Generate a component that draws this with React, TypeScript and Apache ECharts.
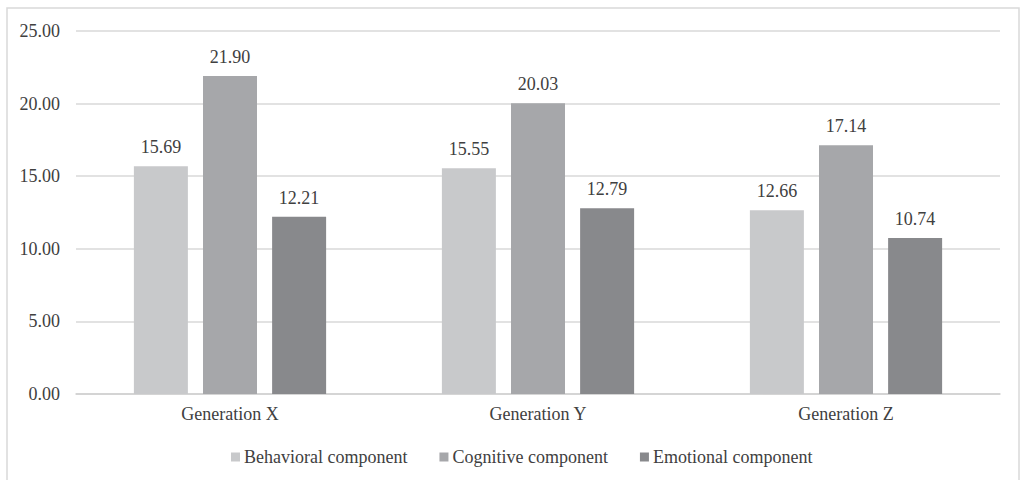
import React, { useEffect, useRef } from "react";
import * as echarts from "echarts";

const categories = ["Generation X", "Generation Y", "Generation Z"];
const seriesNames = ["Behavioral component", "Cognitive component", "Emotional component"];
const behavioral = [15.69, 15.55, 12.66];
const cognitive = [21.9, 20.03, 17.14];
const emotional = [12.21, 12.79, 10.74];
const colors = ["#c8c9cb", "#a6a7aa", "#88898c"];

const FONT = "Times New Roman";
const FS = 18;

export default function App() {
  const ref = useRef<HTMLDivElement>(null);
  useEffect(() => {
    if (!ref.current) return;
    const chart = echarts.init(ref.current, null, { renderer: "svg" });
    const values = [behavioral, cognitive, emotional];
    chart.setOption({
      animation: false,
      backgroundColor: "#ffffff",
      graphic: [
        {
          type: "rect",
          shape: { x: 7, y: 8, width: 1012, height: 490 },
          style: { fill: "none", stroke: "#d9d9d9", lineWidth: 1.5 },
          silent: true,
        },
      ],
      grid: { left: 76, right: 21, top: 31, bottom: 86, containLabel: false },
      legend: {
        data: seriesNames,
        bottom: 9,
        left: 226,
        icon: "rect",
        itemWidth: 9,
        itemHeight: 9,
        itemGap: 32,
        textStyle: { fontFamily: FONT, fontSize: FS, color: "#404040", padding: [0, 0, 0, -1] },
      },
      xAxis: {
        type: "category",
        data: categories,
        axisLine: { show: true, lineStyle: { color: "#d0d0d0", width: 1.5 } },
        axisTick: { show: false },
        axisLabel: { fontFamily: FONT, fontSize: FS, color: "#404040", margin: 11 },
      },
      yAxis: {
        type: "value",
        min: 0,
        max: 25,
        interval: 5,
        axisLine: { show: false },
        axisTick: { show: false },
        splitLine: { lineStyle: { color: "#d9d9d9", width: 1.5 } },
        axisLabel: {
          fontFamily: FONT,
          fontSize: FS,
          color: "#404040",
          margin: 16,
          formatter: (v: number) => v.toFixed(2),
        },
      },
      series: seriesNames.map((name, i) => ({
        name,
        type: "bar",
        data: values[i],
        barWidth: 54,
        barGap: "28%",
        itemStyle: { color: colors[i] },
        label: {
          show: true,
          position: "top",
          distance: 10,
          fontFamily: FONT,
          fontSize: FS,
          color: "#404040",
          formatter: (p: any) => Number(p.value).toFixed(2),
        },
      })),
    });
    return () => chart.dispose();
  }, []);
  return (
    <div
      ref={ref}
      style={{ position: "absolute", left: 0, top: 0, width: 1021, height: 480 }}
    />
  );
}
